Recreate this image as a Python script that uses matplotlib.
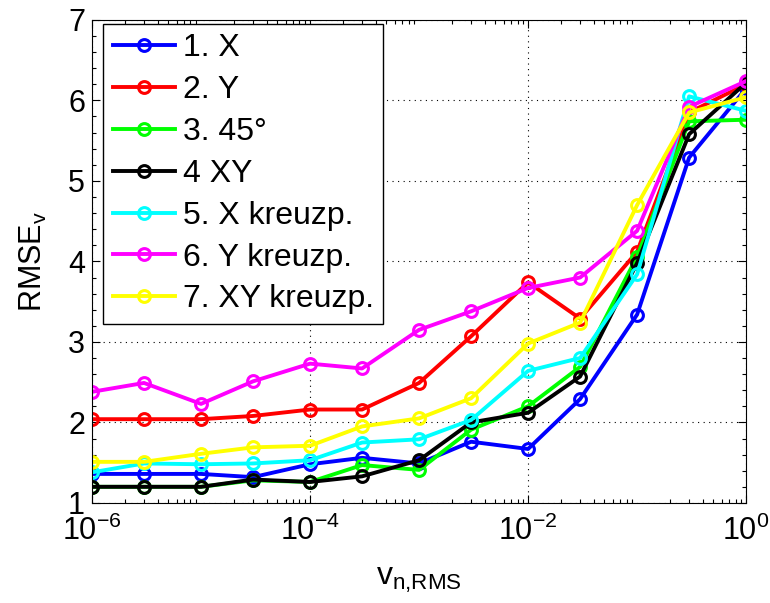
import matplotlib
matplotlib.use("Agg")
import matplotlib.pyplot as plt
from matplotlib.ticker import LogLocator, MultipleLocator, NullFormatter

plt.rcParams['font.family'] = ['Liberation Sans', 'DejaVu Sans']
plt.rcParams['mathtext.fontset'] = 'custom'
plt.rcParams['mathtext.rm'] = 'Liberation Sans'
plt.rcParams['mathtext.it'] = 'Liberation Sans'

x_values = [1e-6, 3e-6, 1e-5, 3e-5, 1e-4, 3e-4, 1e-3, 3e-3, 1e-2, 3e-2, 1e-1, 3e-1, 1.0]

labels = ['1. X', '2. Y', '3. 45°', '4 XY', '5. X kreuzp.', '6. Y kreuzp.', '7. XY kreuzp.']
colors = ['#0000ff', '#ff0000', '#00ff00', '#000000', '#00ffff', '#ff00ff', '#ffff00']

s1_x = [1.36, 1.36, 1.36, 1.32, 1.48, 1.56, 1.49, 1.76, 1.67, 2.29, 3.34, 5.29, 6.15]
s2_y = [2.04, 2.04, 2.04, 2.08, 2.16, 2.16, 2.49, 3.07, 3.74, 3.29, 4.12, 5.85, 6.20]
s3_45 = [1.20, 1.20, 1.20, 1.28, 1.26, 1.47, 1.41, 1.91, 2.20, 2.69, 4.06, 5.74, 5.76]
s4_xy = [1.20, 1.20, 1.20, 1.29, 1.26, 1.33, 1.53, 2.00, 2.12, 2.57, 3.98, 5.58, 6.22]
s5_xk = [1.38, 1.49, 1.48, 1.49, 1.53, 1.75, 1.79, 2.03, 2.64, 2.80, 3.84, 6.05, 5.87]
s6_yk = [2.38, 2.49, 2.23, 2.51, 2.73, 2.67, 3.15, 3.38, 3.67, 3.80, 4.38, 5.92, 6.24]
s7_xyk = [1.51, 1.51, 1.61, 1.69, 1.71, 1.95, 2.05, 2.30, 2.98, 3.24, 4.70, 5.85, 6.04]

series = [s1_x, s2_y, s3_45, s4_xy, s5_xk, s6_yk, s7_xyk]

fig = plt.figure(figsize=(7.7, 6.03), dpi=100)
ax = fig.add_axes([0.1195, 0.166, 0.8495, 0.801])

for vals, lab, col in zip(series, labels, colors):
    ax.plot(x_values, vals, '-o', color=col, lw=2.8, markersize=8.5,
            markerfacecolor='none', markeredgewidth=2.2, markeredgecolor=col, label=lab)

ax.set_xscale('log')
ax.set_xlim(1e-6, 1)
ax.set_ylim(1, 7)
ax.set_xticks([1e-6, 1e-4, 1e-2, 1])
ax.set_xticklabels(['$\\mathregular{10^{-6}}$', '$\\mathregular{10^{-4}}$',
                    '$\\mathregular{10^{-2}}$', '$\\mathregular{10^{0}}$'])
ax.xaxis.set_minor_locator(LogLocator(base=10, subs=range(2, 10), numticks=20))
ax.xaxis.set_minor_formatter(NullFormatter())
ax.yaxis.set_major_locator(MultipleLocator(1))
ax.yaxis.set_minor_locator(MultipleLocator(0.2))

ax.tick_params(which='both', direction='in', top=True, right=True, labelsize=22, width=0.8)
ax.tick_params(which='major', length=6)
ax.tick_params(axis='x', which='major', pad=9)
ax.tick_params(axis='y', which='major', pad=5)
ax.tick_params(which='minor', length=3)

ax.grid(True, which='major', linestyle=(0, (1, 4)), color='black', linewidth=0.8)

for sp in ax.spines.values():
    sp.set_linewidth(0.8)

ax.set_xlabel('$\\mathregular{v_{n{,}RMS}}$', fontsize=23, labelpad=13)
ax.set_ylabel('$\\mathregular{RMSE_v}$', fontsize=22, labelpad=14)

leg = ax.legend(loc='upper left', bbox_to_anchor=(0.0168, 0.9917), fontsize=23,
                fancybox=False, framealpha=1, edgecolor='black',
                handlelength=1.95, handletextpad=0.25, labelspacing=0.37,
                borderpad=0.3, borderaxespad=0)
leg.get_frame().set_linewidth(1.0)

fig.savefig('out.png', dpi=100)
